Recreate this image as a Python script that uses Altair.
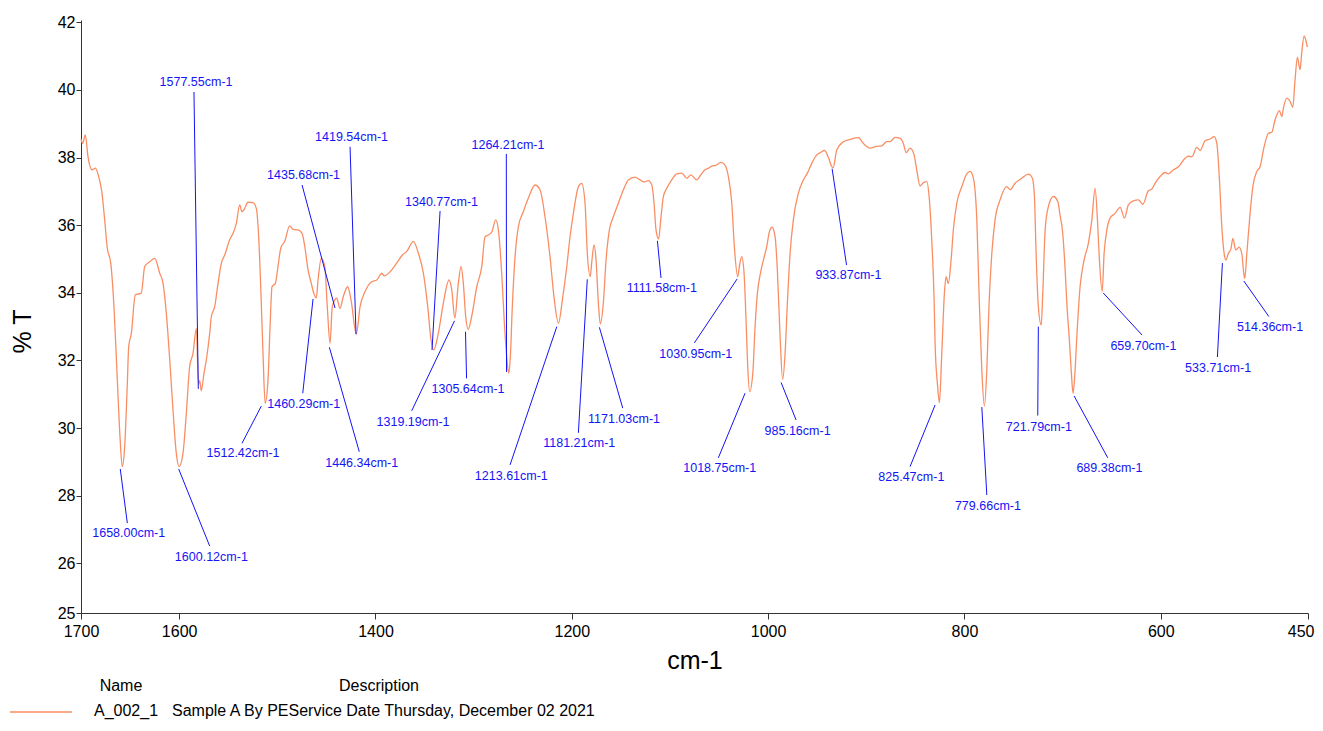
import altair as alt
import pandas as pd

# ---------------- spectrum data ----------------
wavenumber = [
    1700.0, 1698.3, 1695.6, 1692.9, 1688.8, 1685.4, 1682.0, 1678.6, 1675.9, 1673.2,
    1669.7, 1666.4, 1663.0, 1660.3, 1658.0, 1655.5, 1652.8, 1651.4, 1648.7, 1644.7,
    1638.6, 1635.1, 1630.0, 1624.9, 1619.8, 1616.4, 1613.1, 1609.6, 1606.3, 1602.9,
    1600.1, 1596.1, 1592.7, 1589.3, 1585.9, 1582.5, 1580.3, 1579.0, 1577.5, 1574.7,
    1572.3, 1568.9, 1567.2, 1563.8, 1560.4, 1557.0, 1553.6, 1548.5, 1545.1, 1541.7,
    1538.3, 1536.0, 1533.2, 1529.9, 1524.8, 1521.4, 1519.0, 1516.9, 1514.6, 1512.4,
    1509.5, 1507.4, 1505.4, 1502.0, 1499.3, 1496.5, 1492.5, 1487.4, 1484.0, 1478.9,
    1474.8, 1472.0, 1468.7, 1465.4, 1463.0, 1460.3, 1458.5, 1455.2, 1451.7, 1449.1,
    1446.3, 1444.0, 1439.5, 1436.1, 1432.8, 1428.3, 1424.9, 1419.5, 1415.7, 1410.6,
    1403.8, 1398.7, 1393.6, 1391.0, 1383.4, 1378.4, 1372.6, 1368.2, 1361.4, 1356.3,
    1351.2, 1346.8, 1343.4, 1340.8, 1336.0, 1330.9, 1325.1, 1322.3, 1319.2, 1315.6,
    1312.8, 1310.5, 1308.1, 1305.6, 1302.0, 1296.8, 1291.7, 1288.4, 1285.0, 1281.5,
    1277.5, 1274.8, 1271.4, 1268.7, 1266.3, 1264.2, 1262.6, 1260.6, 1257.8, 1254.4,
    1249.4, 1243.6, 1237.4, 1232.3, 1227.3, 1222.2, 1217.8, 1213.6, 1209.6, 1205.1,
    1201.8, 1198.4, 1193.3, 1189.9, 1186.5, 1184.2, 1181.2, 1179.7, 1177.3, 1175.3,
    1172.9, 1171.0, 1167.9, 1165.1, 1161.7, 1157.7, 1152.6, 1147.5, 1142.4, 1135.6,
    1130.5, 1126.4, 1122.0, 1118.5, 1116.2, 1114.2, 1111.6, 1109.4, 1106.7, 1103.3,
    1098.2, 1093.1, 1088.0, 1082.9, 1078.8, 1072.7, 1068.6, 1064.3, 1061.0, 1057.4,
    1053.4, 1048.3, 1043.9, 1040.5, 1037.0, 1034.4, 1031.0, 1029.3, 1026.9, 1024.5,
    1022.5, 1020.8, 1018.8, 1015.6, 1013.3, 1010.9, 1007.5, 1004.8, 1001.4, 998.7,
    996.0, 992.9, 990.6, 987.8, 985.2, 982.7, 980.4, 977.6, 974.3, 969.2,
    964.1, 960.0, 955.6, 950.4, 946.5, 942.7, 938.5, 935.5, 933.9, 930.0,
    923.3, 916.5, 908.0, 903.0, 896.1, 889.3, 884.2, 879.1, 875.7, 870.7,
    865.6, 862.2, 859.4, 855.4, 851.3, 848.6, 845.2, 841.8, 838.4, 835.7,
    833.3, 830.9, 829.9, 827.5, 825.5, 823.1, 820.4, 818.7, 816.4, 813.6,
    811.3, 807.8, 802.7, 797.6, 794.2, 790.9, 787.4, 784.8, 782.3, 779.7,
    777.2, 774.9, 772.1, 768.8, 763.7, 756.9, 753.5, 748.4, 741.6, 734.8,
    730.8, 728.7, 727.0, 724.7, 721.8, 720.2, 717.8, 714.5, 709.4, 704.9,
    702.6, 700.0, 697.4, 695.7, 693.1, 691.0, 689.4, 687.5, 685.5, 682.2,
    678.1, 673.7, 670.2, 666.9, 664.5, 662.5, 659.7, 657.7, 654.9, 651.6,
    646.5, 641.4, 637.0, 633.0, 627.9, 622.8, 618.3, 612.6, 609.1, 605.8,
    600.7, 595.6, 592.2, 587.1, 582.0, 575.2, 571.8, 568.4, 563.3, 559.9,
    554.8, 549.7, 545.6, 542.9, 540.2, 537.8, 535.1, 533.7, 531.1, 528.5,
    526.6, 523.6, 520.2, 517.5, 515.1, 514.4, 512.3, 509.0, 506.2, 502.1,
    498.8, 495.4, 490.3, 486.9, 483.5, 479.1, 476.7, 475.0, 471.6, 468.2,
    465.5, 463.2, 460.8, 458.1, 456.4, 454.0, 452.3, 450.6,
]
transmittance = [
    38.55, 38.42, 38.67, 38.03, 37.64, 37.69, 37.44, 36.95, 36.16, 35.32,
    34.88, 33.59, 31.42, 29.75, 28.86, 29.45, 31.33, 32.41, 32.80, 33.94,
    33.99, 34.78, 34.92, 35.02, 34.58, 34.28, 33.40, 32.02, 30.54, 29.25,
    28.86, 29.25, 30.44, 31.82, 32.21, 32.95, 31.30, 31.40, 31.10, 31.62,
    32.02, 32.80, 33.30, 33.59, 34.28, 34.88, 35.12, 35.57, 35.76, 36.06,
    36.60, 36.40, 36.50, 36.68, 36.67, 36.50, 35.66, 34.18, 32.21, 30.73,
    31.42, 33.00, 34.18, 34.28, 34.78, 35.32, 35.52, 35.98, 35.88, 35.86,
    35.76, 35.37, 34.68, 34.28, 34.00, 33.85, 34.38, 35.02, 34.78, 33.59,
    32.51, 33.59, 33.84, 33.54, 33.89, 34.18, 33.79, 32.78, 33.59, 34.04,
    34.33, 34.38, 34.58, 34.50, 34.68, 34.88, 35.12, 35.22, 35.52, 35.17,
    34.58, 33.59, 32.61, 32.31, 32.80, 33.69, 34.38, 34.09, 33.25, 34.28,
    34.78, 34.28, 33.30, 32.92, 33.30, 34.18, 34.78, 35.66, 35.71, 35.80,
    36.16, 35.86, 34.58, 33.10, 32.11, 31.62, 32.11, 33.59, 35.07, 35.96,
    36.40, 36.85, 37.19, 37.04, 36.25, 35.07, 33.79, 33.10, 33.79, 34.78,
    35.66, 36.35, 37.14, 37.24, 36.65, 35.17, 34.48, 34.90, 35.42, 34.97,
    33.69, 33.08, 33.69, 34.97, 35.86, 36.25, 36.65, 37.04, 37.34, 37.42,
    37.34, 37.28, 37.32, 37.19, 36.65, 35.86, 35.59, 36.16, 36.85, 37.09,
    37.34, 37.52, 37.54, 37.39, 37.49, 37.34, 37.49, 37.64, 37.68, 37.75,
    37.77, 37.86, 37.78, 37.44, 36.65, 35.37, 34.48, 34.78, 35.07, 34.58,
    33.20, 31.82, 31.08, 31.62, 33.00, 33.99, 34.63, 34.97, 35.37, 35.81,
    35.94, 35.66, 34.68, 32.70, 31.44, 32.21, 33.69, 35.17, 36.16, 36.95,
    37.34, 37.54, 37.83, 38.08, 38.15, 38.21, 38.00, 37.75, 37.69, 38.23,
    38.47, 38.54, 38.59, 38.42, 38.28, 38.33, 38.35, 38.47, 38.47, 38.60,
    38.57, 38.42, 38.15, 38.28, 38.08, 37.64, 37.16, 37.26, 37.29, 36.75,
    35.57, 33.79, 32.50, 31.30, 30.75, 32.20, 33.99, 34.48, 34.28, 34.97,
    35.86, 36.65, 37.14, 37.52, 37.59, 37.39, 36.16, 33.69, 31.72, 30.65,
    31.72, 33.69, 35.17, 36.16, 36.75, 37.14, 37.05, 37.24, 37.39, 37.51,
    37.39, 36.85, 35.17, 33.59, 33.05, 33.99, 35.86, 36.55, 36.85, 36.70,
    36.30, 35.80, 34.68, 33.69, 32.61, 31.60, 31.03, 31.60, 32.70, 34.18,
    34.97, 35.47, 36.16, 37.09, 36.16, 34.97, 34.04, 35.17, 35.86, 36.21,
    36.35, 36.53, 36.21, 36.60, 36.72, 36.75, 36.62, 37.02, 37.07, 37.24,
    37.44, 37.56, 37.52, 37.64, 37.73, 37.98, 38.04, 38.02, 38.30, 38.21,
    38.50, 38.55, 38.62, 38.42, 37.34, 35.96, 35.10, 34.97, 35.17, 35.30,
    35.61, 35.27, 35.35, 35.17, 34.50, 34.43, 35.17, 36.35, 37.14, 37.59,
    37.73, 38.23, 38.72, 38.75, 39.12, 39.39, 39.21, 39.47, 39.76, 39.66,
    39.49, 40.30, 40.97, 40.60, 41.09, 41.60, 41.48, 41.27,
]

# ---------------- peak annotations ----------------
peak_labels = [
    "1577.55cm-1", "1419.54cm-1", "1435.68cm-1", "1340.77cm-1", "1264.21cm-1",
    "1111.58cm-1", "933.87cm-1", "1030.95cm-1", "659.70cm-1", "533.71cm-1",
    "514.36cm-1", "1658.00cm-1", "1600.12cm-1", "1512.42cm-1", "1460.29cm-1",
    "1446.34cm-1", "1319.19cm-1", "1305.64cm-1", "1213.61cm-1", "1181.21cm-1",
    "1171.03cm-1", "1018.75cm-1", "985.16cm-1", "825.47cm-1", "779.66cm-1",
    "721.79cm-1", "689.38cm-1",
]
label_wn = [
    1582.8, 1424.4, 1473.3, 1332.7, 1265.0, 1108.3, 918.2, 1073.7, 617.7, 541.6,
    488.6, 1651.4, 1567.2, 1534.9, 1473.1, 1414.0, 1361.7, 1305.7, 1261.6, 1192.4,
    1146.8, 1049.3, 970.0, 854.1, 776.1, 724.2, 652.3,
]
label_t = [
    40.24, 38.61, 37.49, 36.70, 38.38, 34.13, 34.53, 32.18, 32.44, 31.79,
    33.00, 26.89, 26.20, 29.27, 30.72, 28.97, 30.19, 31.17, 28.58, 29.55,
    30.27, 28.81, 29.92, 28.54, 27.69, 30.04, 28.81,
]
lead_wn1 = [
    1584.9, 1425.9, 1474.8, 1334.2, 1266.7, 1112.8, 934.8, 1031.6, 658.7, 537.2,
    515.4, 1660.0, 1600.5, 1516.3, 1463.6, 1447.0, 1319.5, 1308.3, 1215.3, 1184.2,
    1171.9, 1023.5, 986.8, 829.9, 782.3, 724.7, 688.3,
]
lead_t1 = [
    39.94, 38.32, 37.19, 36.42, 38.11, 35.54, 37.67, 34.41, 34.00, 34.88,
    34.35, 28.79, 28.79, 30.65, 33.82, 32.39, 33.17, 32.85, 33.00, 34.40,
    32.98, 31.03, 31.35, 30.68, 30.62, 33.00, 30.95,
]
lead_wn2 = [
    1580.5, 1419.8, 1441.2, 1342.4, 1266.5, 1109.1, 920.1, 1075.1, 619.0, 542.3,
    489.9, 1652.8, 1568.9, 1536.0, 1474.1, 1416.5, 1363.1, 1307.2, 1262.9, 1193.3,
    1148.1, 1050.7, 971.5, 855.4, 777.2, 725.3, 654.0,
]
lead_t2 = [
    31.16, 32.78, 33.55, 32.31, 31.66, 34.44, 34.82, 32.52, 32.75, 32.10,
    33.30, 27.19, 26.51, 29.55, 31.03, 29.30, 30.51, 31.47, 28.91, 29.86,
    30.59, 29.12, 30.24, 28.86, 28.02, 30.37, 29.12,
]

# ---------------- axis ticks ----------------
x_ticks = [1700, 1600, 1400, 1200, 1000, 800, 600, 450]
y_ticks = [24.53, 26, 28, 30, 32, 34, 36, 38, 40, 42]
y_bottom_label = "25"

# legend texts
legend_head = ["Name", "Description"]
legend_row = ["A_002_1", "Sample A By PEService Date Thursday, December 02 2021"]

FONT = "Liberation Sans, Arial"
CURVE = "#F98E64"
LABEL_BLUE = "#1414F5"

spec = pd.DataFrame({"wn": wavenumber, "t": transmittance})
ann = pd.DataFrame({
    "label": peak_labels, "lwn": label_wn, "lt": label_t,
    "wn1": lead_wn1, "t1": lead_t1, "wn2": lead_wn2, "t2": lead_t2,
})

xscale = alt.Scale(domain=[450, 1700], reverse=True, nice=False, zero=False)
yscale = alt.Scale(domain=[24.53, 42.07], nice=False, zero=False)

xaxis = alt.Axis(
    values=x_ticks, format="d", title="cm-1", grid=False,
    labelFont=FONT, labelFontSize=16, labelColor="#000", labelFlush=False,
    labelAlign={"condition": {"test": "datum.value == 450", "value": "right"}, "value": "center"},
    labelOffset={"condition": {"test": "datum.value == 450", "value": 6}, "value": 0},
    labelPadding=4, tickSize=6, tickColor="#333", domainColor="#333",
    titleFont=FONT, titleFontSize=25, titleFontWeight="normal", titleColor="#000",
    titleY=47, titleBaseline="middle",
)
yaxis = alt.Axis(
    values=y_ticks, title="% T", grid=False,
    labelExpr=f"datum.value < 25 ? '{y_bottom_label}' : datum.label",
    labelFont=FONT, labelFontSize=16, labelColor="#000",
    labelPadding=1, tickSize=5, tickColor="#333", domainColor="#333",
    titleFont=FONT, titleFontSize=25, titleFontWeight="normal", titleColor="#000",
    titleX=-59, titleY=311, titleBaseline="middle", titleAlign="center",
)

line = alt.Chart(spec).mark_line(
    color=CURVE, strokeWidth=1.3, interpolate="monotone"
).encode(
    x=alt.X("wn:Q", scale=xscale, axis=xaxis),
    y=alt.Y("t:Q", scale=yscale, axis=yaxis),
    order=alt.Order("wn:Q", sort="descending"),
)

leaders = alt.Chart(ann).mark_rule(color=LABEL_BLUE, strokeWidth=1).encode(
    x="wn1:Q", y="t1:Q", x2="wn2:Q", y2="t2:Q",
)

labels = alt.Chart(ann).mark_text(
    font=FONT, fontSize=12.5, color=LABEL_BLUE, align="center", baseline="middle"
).encode(x="lwn:Q", y="lt:Q", text="label:N")

legend_df = pd.DataFrame({"h": [legend_head[0]], "d": [legend_head[1]],
                          "n": [legend_row[0]], "s": [legend_row[1]]})
LG = dict(font=FONT, fontSize=16, color="#000", baseline="middle")
lg_name = alt.Chart(legend_df).mark_text(align="center", **LG).encode(
    x=alt.value(40), y=alt.value(666), text="h:N")
lg_desc = alt.Chart(legend_df).mark_text(align="center", **LG).encode(
    x=alt.value(298), y=alt.value(666), text="d:N")
lg_n = alt.Chart(legend_df).mark_text(align="center", **LG).encode(
    x=alt.value(45), y=alt.value(691), text="n:N")
lg_s = alt.Chart(legend_df).mark_text(align="left", **LG).encode(
    x=alt.value(91), y=alt.value(691), text="s:N")
lg_line = alt.Chart(legend_df).mark_rule(color=CURVE, strokeWidth=1.3).encode(
    x=alt.value(-71), x2=alt.value(-9), y=alt.value(692)
)

chart = alt.layer(line, leaders, labels, lg_name, lg_desc, lg_n, lg_s, lg_line).properties(
    width=1227, height=593,
    autosize=alt.AutoSizeParams(type="none"),
    padding={"left": 73, "top": 12, "right": 7, "bottom": 109},
).configure_view(stroke=None)

chart.save("out.html", embed_options={"renderer": "svg", "actions": False})
